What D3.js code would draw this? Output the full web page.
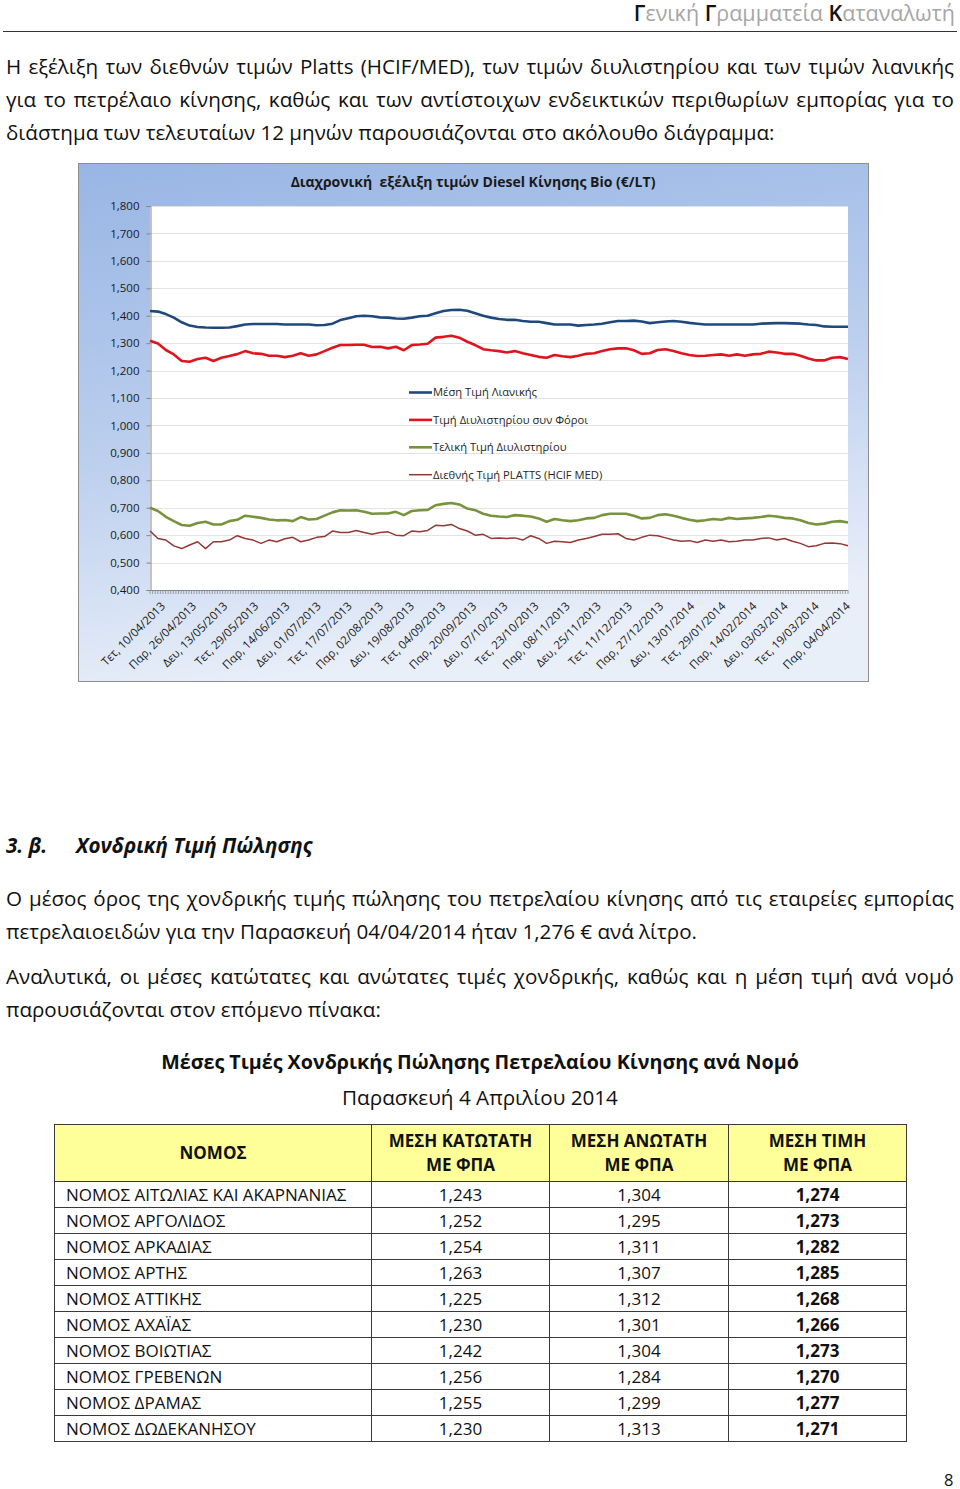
<!DOCTYPE html>
<html><head><meta charset="utf-8">
<script src="https://cdn.jsdelivr.net/npm/d3@7"></script>
<style>
html,body{margin:0;padding:0;background:#fff}
body{width:960px;height:1489px;position:relative;overflow:hidden;font-family:"Open Sans",sans-serif;color:#111}
.tl{position:absolute;left:6px;width:948px;font-size:20.6px;line-height:28px;white-space:nowrap}
table{position:absolute;left:54px;top:1124px;border-collapse:collapse;font-size:17px;color:#111}
td,th{border:1px solid #3a3a3a;padding:0;line-height:24px}
th{background:#ffff99;font-weight:bold;height:56px}
td{height:25px;text-align:center}
td.n{text-align:left;padding-left:11px}
td.b{font-weight:bold}
</style></head>
<body>
<svg id="chart" width="960" height="700" style="position:absolute;left:0;top:0"></svg>
<script>
// ---------- data ----------
const xTickLabels = ["Τετ, 10/04/2013","Παρ, 26/04/2013","Δευ, 13/05/2013","Τετ, 29/05/2013","Παρ, 14/06/2013","Δευ, 01/07/2013","Τετ, 17/07/2013","Παρ, 02/08/2013","Δευ, 19/08/2013","Τετ, 04/09/2013","Παρ, 20/09/2013","Δευ, 07/10/2013","Τετ, 23/10/2013","Παρ, 08/11/2013","Δευ, 25/11/2013","Τετ, 11/12/2013","Παρ, 27/12/2013","Δευ, 13/01/2014","Τετ, 29/01/2014","Παρ, 14/02/2014","Δευ, 03/03/2014","Τετ, 19/03/2014","Παρ, 04/04/2014"];
const yTickValues = [0.4,0.5,0.6,0.7,0.8,0.9,1.0,1.1,1.2,1.3,1.4,1.5,1.6,1.7,1.8];
const yTickLabels = ["0,400","0,500","0,600","0,700","0,800","0,900","1,000","1,100","1,200","1,300","1,400","1,500","1,600","1,700","1,800"];
const seriesNames = ["Μέση Τιμή Λιανικής","Τιμή Διυλιστηρίου συν Φόροι","Τελική Τιμή Διυλιστηρίου","Διεθνής Τιμή PLATTS (HCIF MED)"];
const retail = [1.417,1.415,1.406,1.393,1.376,1.364,1.359,1.357,1.356,1.356,1.357,1.362,1.368,1.370,1.370,1.370,1.370,1.368,1.368,1.368,1.368,1.365,1.366,1.371,1.384,1.391,1.398,1.400,1.398,1.394,
 1.393,1.390,1.389,1.393,1.398,1.400,1.409,1.417,1.421,1.422,1.418,1.409,1.400,1.393,1.388,1.385,1.385,1.381,1.378,1.378,1.373,1.368,1.368,1.368,1.364,1.366,1.368,1.371,1.376,1.381,
 1.381,1.382,1.379,1.373,1.376,1.379,1.381,1.378,1.374,1.371,1.368,1.368,1.368,1.368,1.368,1.368,1.368,1.371,1.372,1.373,1.373,1.372,1.371,1.368,1.366,1.361,1.360,1.360,1.360];
const refineryTaxes = [1.309,1.299,1.275,1.259,1.235,1.232,1.242,1.247,1.235,1.247,1.253,1.260,1.271,1.263,1.261,1.254,1.254,1.249,1.254,1.263,1.254,1.259,1.271,1.283,1.293,1.293,1.294,1.294,1.286,1.287,
 1.281,1.287,1.274,1.293,1.295,1.298,1.320,1.323,1.327,1.320,1.305,1.293,1.278,1.274,1.271,1.266,1.271,1.263,1.257,1.250,1.247,1.257,1.252,1.249,1.254,1.261,1.263,1.271,1.278,1.281,
 1.281,1.274,1.261,1.263,1.275,1.278,1.271,1.263,1.257,1.253,1.254,1.257,1.259,1.254,1.259,1.254,1.259,1.261,1.269,1.266,1.261,1.261,1.254,1.244,1.237,1.237,1.247,1.249,1.242];
const refineryFinal = [0.700,0.688,0.667,0.651,0.637,0.634,0.644,0.649,0.639,0.639,0.651,0.656,0.671,0.667,0.663,0.657,0.654,0.655,0.651,0.666,0.657,0.659,0.671,0.683,0.691,0.690,0.691,0.685,0.678,0.679,
 0.679,0.685,0.673,0.688,0.691,0.692,0.709,0.714,0.717,0.712,0.697,0.691,0.678,0.671,0.668,0.666,0.673,0.671,0.668,0.661,0.649,0.659,0.654,0.651,0.654,0.661,0.663,0.673,0.678,0.678,
 0.678,0.671,0.661,0.663,0.673,0.676,0.671,0.663,0.656,0.651,0.654,0.659,0.656,0.663,0.659,0.661,0.663,0.666,0.671,0.668,0.663,0.661,0.654,0.644,0.639,0.642,0.649,0.651,0.646];
const platts = [0.615,0.588,0.582,0.561,0.551,0.564,0.576,0.551,0.576,0.576,0.582,0.598,0.588,0.582,0.570,0.582,0.576,0.587,0.592,0.576,0.582,0.592,0.595,0.615,0.610,0.610,0.617,0.610,0.603,0.610,
 0.612,0.600,0.598,0.615,0.612,0.617,0.636,0.634,0.639,0.624,0.615,0.600,0.603,0.588,0.590,0.588,0.590,0.582,0.598,0.588,0.570,0.578,0.576,0.573,0.582,0.588,0.595,0.603,0.603,0.605,
 0.588,0.582,0.592,0.600,0.598,0.590,0.582,0.578,0.580,0.573,0.582,0.578,0.582,0.576,0.578,0.582,0.582,0.588,0.590,0.582,0.588,0.578,0.570,0.558,0.561,0.570,0.571,0.569,0.561];
const categoryCount = 270;   // daily categories on the axis
const labelEvery = 12;

const tableHeaders = ["ΝΟΜΟΣ","ΜΕΣΗ ΚΑΤΩΤΑΤΗ|ΜΕ ΦΠΑ","ΜΕΣΗ ΑΝΩΤΑΤΗ|ΜΕ ΦΠΑ","ΜΕΣΗ ΤΙΜΗ|ΜΕ ΦΠΑ"];
const prefectures = ["ΝΟΜΟΣ ΑΙΤΩΛΙΑΣ ΚΑΙ ΑΚΑΡΝΑΝΙΑΣ","ΝΟΜΟΣ ΑΡΓΟΛΙΔΟΣ","ΝΟΜΟΣ ΑΡΚΑΔΙΑΣ","ΝΟΜΟΣ ΑΡΤΗΣ","ΝΟΜΟΣ ΑΤΤΙΚΗΣ","ΝΟΜΟΣ ΑΧΑΪΑΣ","ΝΟΜΟΣ ΒΟΙΩΤΙΑΣ","ΝΟΜΟΣ ΓΡΕΒΕΝΩΝ","ΝΟΜΟΣ ΔΡΑΜΑΣ","ΝΟΜΟΣ ΔΩΔΕΚΑΝΗΣΟΥ"];
const minPrice = ["1,243","1,252","1,254","1,263","1,225","1,230","1,242","1,256","1,255","1,230"];
const maxPrice = ["1,304","1,295","1,311","1,307","1,312","1,301","1,304","1,284","1,299","1,313"];
const avgPrice = ["1,274","1,273","1,282","1,285","1,268","1,266","1,273","1,270","1,277","1,271"];

// ---------- page text ----------
const body = d3.select("body");
// header
const hdr = body.append("div").style("position","absolute").style("right","5px").style("top","-1px")
  .style("font-size","21.5px").style("line-height","28px").style("color","#a6a6a6").style("white-space","nowrap");
[["Γ","ενική "],["Γ","ραμματεία "],["Κ","αταναλωτή"]].forEach(p=>{
  hdr.append("span").style("color","#111").style("font-weight","600").text(p[0]);
  hdr.append("span").text(p[1]);
});
body.append("div").style("position","absolute").style("left","3px").style("top","31px")
  .style("width","954px").style("height","0").style("border-top","1.5px solid #333");

function lines(arr){
  arr.forEach(l=>{
    const div = body.append("div").attr("class","tl").style("top",(l.y-15)+"px");
    const sp = div.append("span").text(l.t);
    if(!l.last){
      const w = sp.node().getBoundingClientRect().width;
      const n = (l.t.match(/ /g)||[]).length;
      sp.style("word-spacing",((948-w)/n)+"px");
    }
  });
}
lines([
 {y:67,t:"Η εξέλιξη των διεθνών τιμών Platts (HCIF/MED), των τιμών διυλιστηρίου και των τιμών λιανικής"},
 {y:100,t:"για το πετρέλαιο κίνησης, καθώς και των αντίστοιχων ενδεικτικών περιθωρίων εμπορίας για το"},
 {y:133,t:"διάστημα των τελευταίων 12 μηνών παρουσιάζονται στο ακόλουθο διάγραμμα:",last:true},
 {y:899,t:"Ο μέσος όρος της χονδρικής τιμής πώλησης του πετρελαίου κίνησης από τις εταιρείες εμπορίας"},
 {y:932,t:"πετρελαιοειδών για την Παρασκευή 04/04/2014 ήταν 1,276 € ανά λίτρο.",last:true},
 {y:977,t:"Αναλυτικά, οι μέσες κατώτατες και ανώτατες τιμές χονδρικής, καθώς και η μέση τιμή ανά νομό"},
 {y:1010,t:"παρουσιάζονται στον επόμενο πίνακα:",last:true}
]);
// section heading
const h = body.append("div").style("position","absolute").style("top","831px").style("left","6px")
  .style("font-size","20.6px").style("line-height","28px").style("font-weight","bold").style("font-style","italic").style("white-space","nowrap");
h.append("span").text("3. β.");
h.append("span").style("position","absolute").style("left","70px").text("Χονδρική Τιμή Πώλησης");
// table title
body.append("div").style("position","absolute").style("top","1048px").style("left","0").style("width","960px")
  .style("text-align","center").style("font-size","19.7px").style("line-height","28px").style("font-weight","bold")
  .text("Μέσες Τιμές Χονδρικής Πώλησης Πετρελαίου Κίνησης ανά Νομό");
body.append("div").style("position","absolute").style("top","1083px").style("left","0").style("width","960px")
  .style("text-align","center").style("font-size","20.7px").style("line-height","28px")
  .text("Παρασκευή 4 Απριλίου 2014");
// page number
body.append("div").style("position","absolute").style("top","1468px").style("left","944px")
  .style("font-size","16.5px").text("8");

// table
const colW = [317,178,179,178];
const tbl = body.append("table");
const cg = tbl.append("colgroup");
colW.forEach(w=>cg.append("col").style("width",w+"px"));
const hr = tbl.append("tr");
tableHeaders.forEach(hd=>{
  const th = hr.append("th");
  hd.split("|").forEach((s,i)=>{ if(i) th.append("br"); th.append("span").text(s); });
});
prefectures.forEach((p,i)=>{
  const tr = tbl.append("tr");
  tr.append("td").attr("class","n").text(p);
  tr.append("td").text(minPrice[i]);
  tr.append("td").text(maxPrice[i]);
  tr.append("td").attr("class","b").text(avgPrice[i]);
});

// ---------- chart ----------
const svg = d3.select("#chart");
const box = {x:78,y:163,w:790,h:518};
const P = {l:150,r:848,t:206,b:590};
const defs = svg.append("defs");
const g1 = defs.append("linearGradient").attr("id","bg").attr("x1",0).attr("y1",0).attr("x2",0.25).attr("y2",1);
g1.append("stop").attr("offset","0%").attr("stop-color","#98b5e4");
g1.append("stop").attr("offset","55%").attr("stop-color","#bccfee");
g1.append("stop").attr("offset","100%").attr("stop-color","#e9eff9");
svg.append("rect").attr("x",box.x+0.5).attr("y",box.y+0.5).attr("width",box.w).attr("height",box.h)
  .attr("fill","url(#bg)").attr("stroke","#8e8e8e").attr("stroke-width",1);

const y = d3.scaleLinear().domain([0.4,1.8]).range([P.b,P.t]);
const xc = d3.scaleLinear().domain([0,categoryCount-1]).range([P.l,P.r]);
const xs = d3.scaleLinear().domain([0,retail.length-1]).range([P.l,P.r]);

svg.append("rect").attr("x",P.l).attr("y",P.t).attr("width",P.r-P.l).attr("height",P.b-P.t).attr("fill","#fff");
// gridlines
svg.append("g").selectAll("line").data(yTickValues.slice(1)).join("line")
  .attr("x1",P.l).attr("x2",P.r).attr("y1",d=>Math.round(y(d))+0.5).attr("y2",d=>Math.round(y(d))+0.5)
  .attr("stroke","#e2e2e2").attr("stroke-width",1);
// y axis
const yAxis = d3.axisLeft(y).tickValues(yTickValues).tickFormat((d,i)=>yTickLabels[i]).tickSize(4).tickPadding(7);
const ya = svg.append("g").attr("transform",`translate(${P.l+0.5},0)`).call(yAxis);
ya.select(".domain").attr("stroke","#868686");
ya.selectAll(".tick line").attr("stroke","#868686");
ya.selectAll("text").attr("font-family","Open Sans, sans-serif").attr("font-size",11.5).attr("fill","#1a1a1a");

// x axis (category ticks)
const xg = svg.append("g");
xg.append("line").attr("x1",P.l).attr("x2",P.r).attr("y1",P.b+0.5).attr("y2",P.b+0.5).attr("stroke","#868686");
xg.selectAll("line.t").data(d3.range(categoryCount)).join("line").attr("class","t")
  .attr("x1",d=>xc(d)).attr("x2",d=>xc(d)).attr("y1",P.b).attr("y2",P.b+4).attr("stroke","#8a8a8a").attr("stroke-width",0.8);
xg.selectAll("text").data(xTickLabels).join("text")
  .attr("transform",(d,i)=>`translate(${xc(i*labelEvery)+13},${P.b+14}) rotate(-45)`)
  .attr("text-anchor","end").attr("dy","0.35em")
  .attr("font-family","Open Sans, sans-serif").attr("font-size",11.5).attr("fill","#1a1a1a").text(d=>d);

// series
const colors = ["#1f497d","#e0141e","#77933c","#953735"];
const widths = [2.6,2.6,2.6,1.5];
const series = [retail,refineryTaxes,refineryFinal,platts];
const line = d3.line().x((d,i)=>xs(i)).y(d=>y(d));
svg.append("g").selectAll("path").data(series).join("path")
  .attr("d",line).attr("fill","none").attr("stroke",(d,i)=>colors[i]).attr("stroke-width",(d,i)=>widths[i])
  .attr("stroke-linejoin","round");

// title
svg.append("text").attr("x",473).attr("y",187).attr("text-anchor","middle").style("white-space","pre")
  .attr("font-family","Open Sans, sans-serif").attr("font-weight","bold").attr("font-size",14).attr("fill","#1a1a1a")
  .text("Διαχρονική  εξέλιξη τιμών Diesel Κίνησης Bio (€/LT)");

// legend
const lg = svg.append("g").selectAll("g").data(seriesNames).join("g")
  .attr("transform",(d,i)=>`translate(409,${392.5+i*27.4})`);
lg.append("line").attr("x1",0).attr("x2",23).attr("stroke",(d,i)=>colors[i]).attr("stroke-width",(d,i)=>widths[i]);
lg.append("text").attr("x",24).attr("dy","0.35em").attr("font-family","Open Sans, sans-serif").attr("font-size",11.2)
  .attr("fill","#262626").text(d=>d);
</script>
</body></html>
